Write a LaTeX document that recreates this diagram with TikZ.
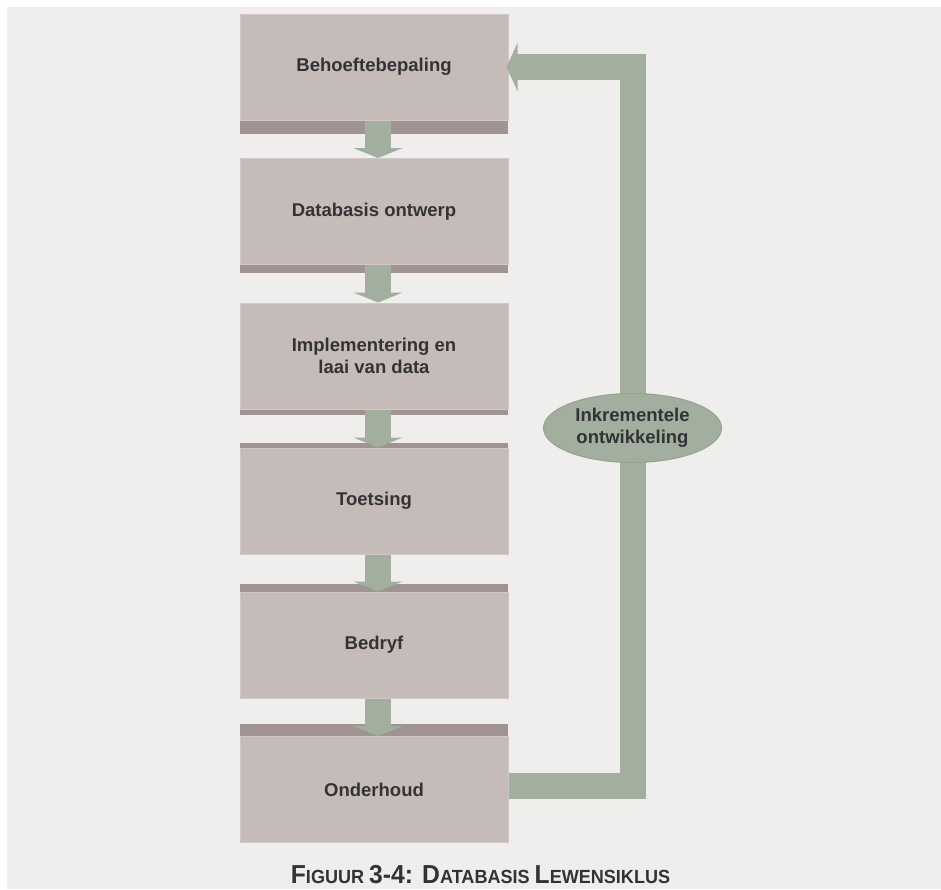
\documentclass[tikz,border=0pt]{standalone}
\usepackage{fontspec}
\setmainfont{Liberation Sans}
\newfontfamily\capfont[FakeStretch=0.95]{Liberation Sans}
\usetikzlibrary{arrows.meta,shapes.geometric}

\definecolor{bgcol}{HTML}{EFEEEC}
\definecolor{boxfill}{HTML}{C5BBB8}
\definecolor{boxedge}{HTML}{D0C8C6}
\definecolor{barfill}{HTML}{A09391}
\definecolor{flowfill}{HTML}{A2AE9E}
\definecolor{flowedge}{HTML}{95A291}
\definecolor{txtcol}{HTML}{333336}

\newcommand{\capbig}{\fontsize{26}{28}\selectfont}
\newcommand{\capsmall}{\fontsize{19}{21}\selectfont}

\begin{document}
\begin{tikzpicture}[x=1pt, y=-1pt,
    stage/.style={draw=boxedge, line width=1pt, fill=boxfill, minimum width=268pt, minimum height=106pt, inner sep=0pt, align=center, font=\fontsize{18.5}{22}\selectfont\bfseries, text=txtcol},
    bar/.style={fill=barfill},
    flow/.style={draw=flowfill, line width=26pt, -{Triangle[length=10pt, width=49pt]}},
    loopback/.style={draw=flowfill, line width=26pt, -{Triangle[length=11pt, width=48pt]}},
    iterbox/.style={draw=flowedge, line width=1pt, fill=flowfill, ellipse, minimum width=178pt, minimum height=69pt, inner sep=0pt, align=center, font=\fontsize{18.5}{22}\selectfont\bfseries, text=txtcol}
  ]
    \useasboundingbox (0,0) rectangle (941,889);
    \fill[bgcol] (7,7) rectangle (941,889);

    \node[stage] (behoefte) at (374,67) {Behoeftebepaling};
    \node[stage] (ontwerp) at (374,211.5) {Databasis ontwerp};
    \node[stage] (implementering) at (374,356) {Implementering en\\laai van data};
    \node[stage] (toetsing) at (374,501) {Toetsing};
    \node[stage] (bedryf) at (374,645) {Bedryf};
    \node[stage] (onderhoud) at (374,789.5) {Onderhoud};

    % donker rande
    \foreach \n/\s/\h in {behoefte/south/13, ontwerp/south/8, implementering/south/5,
                          toetsing/north/-5, bedryf/north/-8, onderhoud/north/-12}
      \fill[bar] (\n.\s\space west) rectangle ++(268,\h);

    \foreach \a/\b in {behoefte/ontwerp, ontwerp/implementering, implementering/toetsing,
                       toetsing/bedryf, bedryf/onderhoud}
      \draw[flow] ([xshift=4pt]\a.south) -- ([xshift=4pt]\b.north);

    \coordinate (terug) at (632.5,428);
    \draw[loopback] ([yshift=3.5pt]onderhoud.east) -| (terug) |- ([xshift=-2pt]behoefte.east);
    \node[iterbox] (inkrementeel) at (terug) {Inkrementele\\ontwikkeling};

    \node[anchor=base, text=txtcol, font=\capfont\bfseries] (opskrif) at (480.5,883)
      {\capbig F\capsmall IGUUR \capbig 3-4: D\capsmall ATABASIS \capbig L\capsmall EWENSIKLUS};
\end{tikzpicture}
\end{document}
